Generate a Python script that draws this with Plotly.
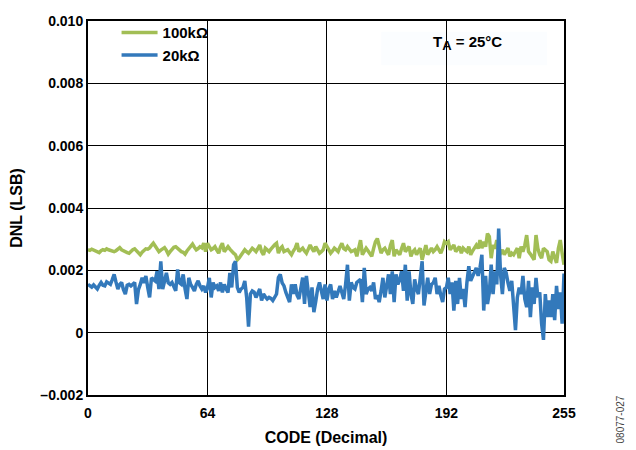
import plotly.graph_objects as go

codes = list(range(256))

dnl_100k = [
    0.00266, 0.00264, 0.00268, 0.00265, 0.00262, 0.00260, 0.00257, 0.00263, 0.00266, 0.00264,
    0.00269, 0.00266, 0.00263, 0.00261, 0.00260, 0.00263, 0.00270, 0.00273, 0.00266, 0.00262,
    0.00260, 0.00257, 0.00255, 0.00261, 0.00266, 0.00269, 0.00263, 0.00256, 0.00250, 0.00258,
    0.00265, 0.00269, 0.00268, 0.00272, 0.00280, 0.00287, 0.00278, 0.00266, 0.00260, 0.00265,
    0.00270, 0.00273, 0.00264, 0.00252, 0.00260, 0.00268, 0.00274, 0.00276, 0.00270, 0.00264,
    0.00260, 0.00258, 0.00252, 0.00262, 0.00270, 0.00280, 0.00284, 0.00274, 0.00266, 0.00270,
    0.00276, 0.00272, 0.00287, 0.00260,
    0.00287, 0.00276, 0.00266, 0.00270, 0.00276, 0.00265, 0.00255, 0.00275, 0.00287, 0.00260,
    0.00268, 0.00276, 0.00268, 0.00260, 0.00255, 0.00250, 0.00234, 0.00240, 0.00250, 0.00260,
    0.00266, 0.00260, 0.00255, 0.00263, 0.00271, 0.00266, 0.00260, 0.00270, 0.00281, 0.00260,
    0.00250, 0.00271, 0.00266, 0.00260, 0.00268, 0.00276, 0.00282, 0.00287, 0.00255, 0.00270,
    0.00276, 0.00260, 0.00264, 0.00266, 0.00258, 0.00250, 0.00262, 0.00271, 0.00287, 0.00260,
    0.00266, 0.00271, 0.00262, 0.00255, 0.00268, 0.00281, 0.00270, 0.00260, 0.00276, 0.00265,
    0.00255, 0.00260, 0.00266, 0.00287,
    0.00276, 0.00266, 0.00255, 0.00262, 0.00271, 0.00266, 0.00260, 0.00275, 0.00287, 0.00270,
    0.00266, 0.00276, 0.00268, 0.00260, 0.00263, 0.00266, 0.00245, 0.00270, 0.00297, 0.00250,
    0.00262, 0.00271, 0.00263, 0.00255, 0.00245, 0.00270, 0.00292, 0.00302, 0.00280, 0.00255,
    0.00266, 0.00271, 0.00260, 0.00250, 0.00280, 0.00297, 0.00245, 0.00266, 0.00258, 0.00250,
    0.00270, 0.00287, 0.00260, 0.00268, 0.00276, 0.00245, 0.00260, 0.00266, 0.00250, 0.00262,
    0.00271, 0.00234, 0.00255, 0.00281, 0.00250, 0.00262, 0.00271, 0.00260, 0.00266, 0.00276,
    0.00264, 0.00255, 0.00270, 0.00292,
    0.00287, 0.00292, 0.00266, 0.00275, 0.00281, 0.00260, 0.00270, 0.00276, 0.00255, 0.00271,
    0.00265, 0.00260, 0.00276, 0.00250, 0.00262, 0.00271, 0.00281, 0.00270, 0.00297, 0.00271,
    0.00292, 0.00276, 0.00318, 0.00308, 0.00239, 0.00281, 0.00270, 0.00297, 0.00260, 0.00255,
    0.00266, 0.00250, 0.00260, 0.00271, 0.00245, 0.00255, 0.00250, 0.00262, 0.00271, 0.00239,
    0.00276, 0.00260, 0.00280, 0.00313, 0.00260, 0.00252, 0.00245, 0.00234, 0.00313, 0.00270,
    0.00250, 0.00239, 0.00271, 0.00266, 0.00260, 0.00234, 0.00229, 0.00260, 0.00245, 0.00224,
    0.00271, 0.00297, 0.00255, 0.00218,
]

dnl_20k = [
    0.00155, 0.00150, 0.00146, 0.00153, 0.00148, 0.00140, 0.00152, 0.00161, 0.00152, 0.00150,
    0.00163, 0.00158, 0.00155, 0.00170, 0.00187, 0.00162, 0.00140, 0.00155, 0.00161, 0.00138,
    0.00124, 0.00152, 0.00155, 0.00150, 0.00156, 0.00161, 0.00092, 0.00138, 0.00155, 0.00176,
    0.00160, 0.00182, 0.00145, 0.00113, 0.00176, 0.00170, 0.00166, 0.00197, 0.00140, 0.00229,
    0.00140, 0.00165, 0.00192, 0.00160, 0.00155, 0.00161, 0.00150, 0.00134, 0.00203, 0.00160,
    0.00155, 0.00187, 0.00140, 0.00108, 0.00176, 0.00155, 0.00145, 0.00134, 0.00155, 0.00166,
    0.00150, 0.00140, 0.00150, 0.00129,
    0.00145, 0.00176, 0.00113, 0.00161, 0.00145, 0.00150, 0.00134, 0.00161, 0.00129, 0.00155,
    0.00140, 0.00129, 0.00192, 0.00145, 0.00218, 0.00229, 0.00145, 0.00129, 0.00140, 0.00145,
    0.00166, 0.00113, 0.00019, 0.00124, 0.00134, 0.00130, 0.00113, 0.00125, 0.00140, 0.00103,
    0.00124, 0.00115, 0.00108, 0.00113, 0.00110, 0.00103, 0.00115, 0.00124, 0.00177, 0.00187,
    0.00160, 0.00150, 0.00129, 0.00110, 0.00098, 0.00155, 0.00124, 0.00155, 0.00120, 0.00108,
    0.00145, 0.00177, 0.00092, 0.00182, 0.00130, 0.00082, 0.00145, 0.00066, 0.00100, 0.00140,
    0.00161, 0.00130, 0.00108, 0.00155,
    0.00103, 0.00140, 0.00155, 0.00108, 0.00134, 0.00113, 0.00135, 0.00150, 0.00129, 0.00108,
    0.00155, 0.00218, 0.00103, 0.00161, 0.00145, 0.00140, 0.00161, 0.00166, 0.00171, 0.00098,
    0.00208, 0.00124, 0.00140, 0.00145, 0.00134, 0.00161, 0.00108, 0.00120, 0.00098, 0.00134,
    0.00176, 0.00113, 0.00160, 0.00187, 0.00124, 0.00197, 0.00098, 0.00187, 0.00155, 0.00170,
    0.00197, 0.00134, 0.00218, 0.00103, 0.00197, 0.00124, 0.00092, 0.00171, 0.00140, 0.00124,
    0.00176, 0.00229, 0.00087, 0.00130, 0.00176, 0.00124, 0.00155, 0.00160, 0.00176, 0.00124,
    0.00150, 0.00120, 0.00098, 0.00140,
    0.00145, 0.00176, 0.00124, 0.00161, 0.00071, 0.00166, 0.00092, 0.00176, 0.00108, 0.00140,
    0.00082, 0.00161, 0.00213, 0.00166, 0.00182, 0.00197, 0.00208, 0.00182, 0.00208, 0.00250,
    0.00071, 0.00182, 0.00092, 0.00129, 0.00218, 0.00124, 0.00197, 0.00155, 0.00334, 0.00187,
    0.00124, 0.00208, 0.00192, 0.00160, 0.00134, 0.00166, 0.00092, 0.00008, 0.00113, 0.00145,
    0.00124, 0.00182, 0.00108, 0.00082, 0.00166, 0.00050, 0.00145, 0.00092, 0.00176, 0.00113,
    0.00129, 0.00029, -0.00023, 0.00124, 0.00050, 0.00103, 0.00050, 0.00124, 0.00040, 0.00150,
    0.00076, 0.00129, 0.00029, 0.00190,
]

series_names = ["100kΩ", "20kΩ"]
series_colors = ["#A2BE55", "#3379BB"]

x_tick_vals = [0, 64, 128, 192, 255]
x_tick_text = ["0", "64", "128", "192", "255"]
y_tick_vals = [-0.002, 0, 0.002, 0.004, 0.006, 0.008, 0.010]
y_tick_text = ["–0.002", "0", "0.002", "0.004", "0.006", "0.008", "0.010"]

FONT = "Arial, Liberation Sans, sans-serif"

fig = go.Figure()
for name, vals, col in zip(series_names, [dnl_100k, dnl_20k], series_colors):
    fig.add_trace(go.Scatter(
        x=codes, y=vals, mode="lines", name=name,
        line=dict(color=col, width=3.5),
    ))

axis_common = dict(
    showline=True, linecolor="black", linewidth=2, mirror=True,
    showgrid=True, gridcolor="black", gridwidth=1,
    zeroline=False, ticks="", ticklabeloverflow="allow",
    tickfont=dict(family=FONT, size=14, color="black", weight="bold"),
)

fig.update_layout(
    width=628, height=442,
    margin=dict(l=80, r=72, t=5, b=55),
    paper_bgcolor="white", plot_bgcolor="white",
    showlegend=True,
    legend=dict(
        x=0.06, y=1.013, xanchor="left", yanchor="top",
        bgcolor="rgba(0,0,0,0)", borderwidth=0,
        font=dict(family=FONT, size=15, color="black", weight="bold"),
        tracegroupgap=0, itemwidth=36,
    ),
    xaxis=dict(
        range=[0, 255], tickvals=x_tick_vals, ticktext=x_tick_text,
        ticklabelstandoff=4,
        title=dict(text="CODE (Decimal)", standoff=12,
                   font=dict(family=FONT, size=16, color="black", weight="bold")),
        **axis_common,
    ),
    yaxis=dict(
        range=[-0.002, 0.010], tickvals=y_tick_vals, ticktext=y_tick_text,
        title=dict(text="DNL (LSB)", standoff=15,
                   font=dict(family=FONT, size=16, color="black", weight="bold")),
        **axis_common,
    ),
    shapes=[
        dict(type="rect", xref="paper", yref="paper", layer="between",
             x0=0.025, x1=0.267, y0=0.866, y1=0.971,
             fillcolor="white", line=dict(width=0)),
        dict(type="rect", xref="paper", yref="paper", layer="between",
             x0=0.616, x1=0.964, y0=0.882, y1=0.971,
             fillcolor="#FBFDFF", line=dict(width=0)),
    ],
    annotations=[
        dict(
            text="T<sub><span style='font-size:13px'>A</span></sub> = 25°C",
            xref="paper", yref="paper",
            x=0.798, y=0.942, xanchor="center", yanchor="middle",
            showarrow=False,
            font=dict(family=FONT, size=15, color="black", weight="bold"),
        ),
        dict(
            text="08077-027", xref="paper", yref="paper",
            x=1.118, y=-0.065, xanchor="center", yanchor="middle",
            showarrow=False, textangle=-90,
            font=dict(family=FONT, size=10, color="#444444"),
        ),
    ],
)

fig.write_html("out.html")
